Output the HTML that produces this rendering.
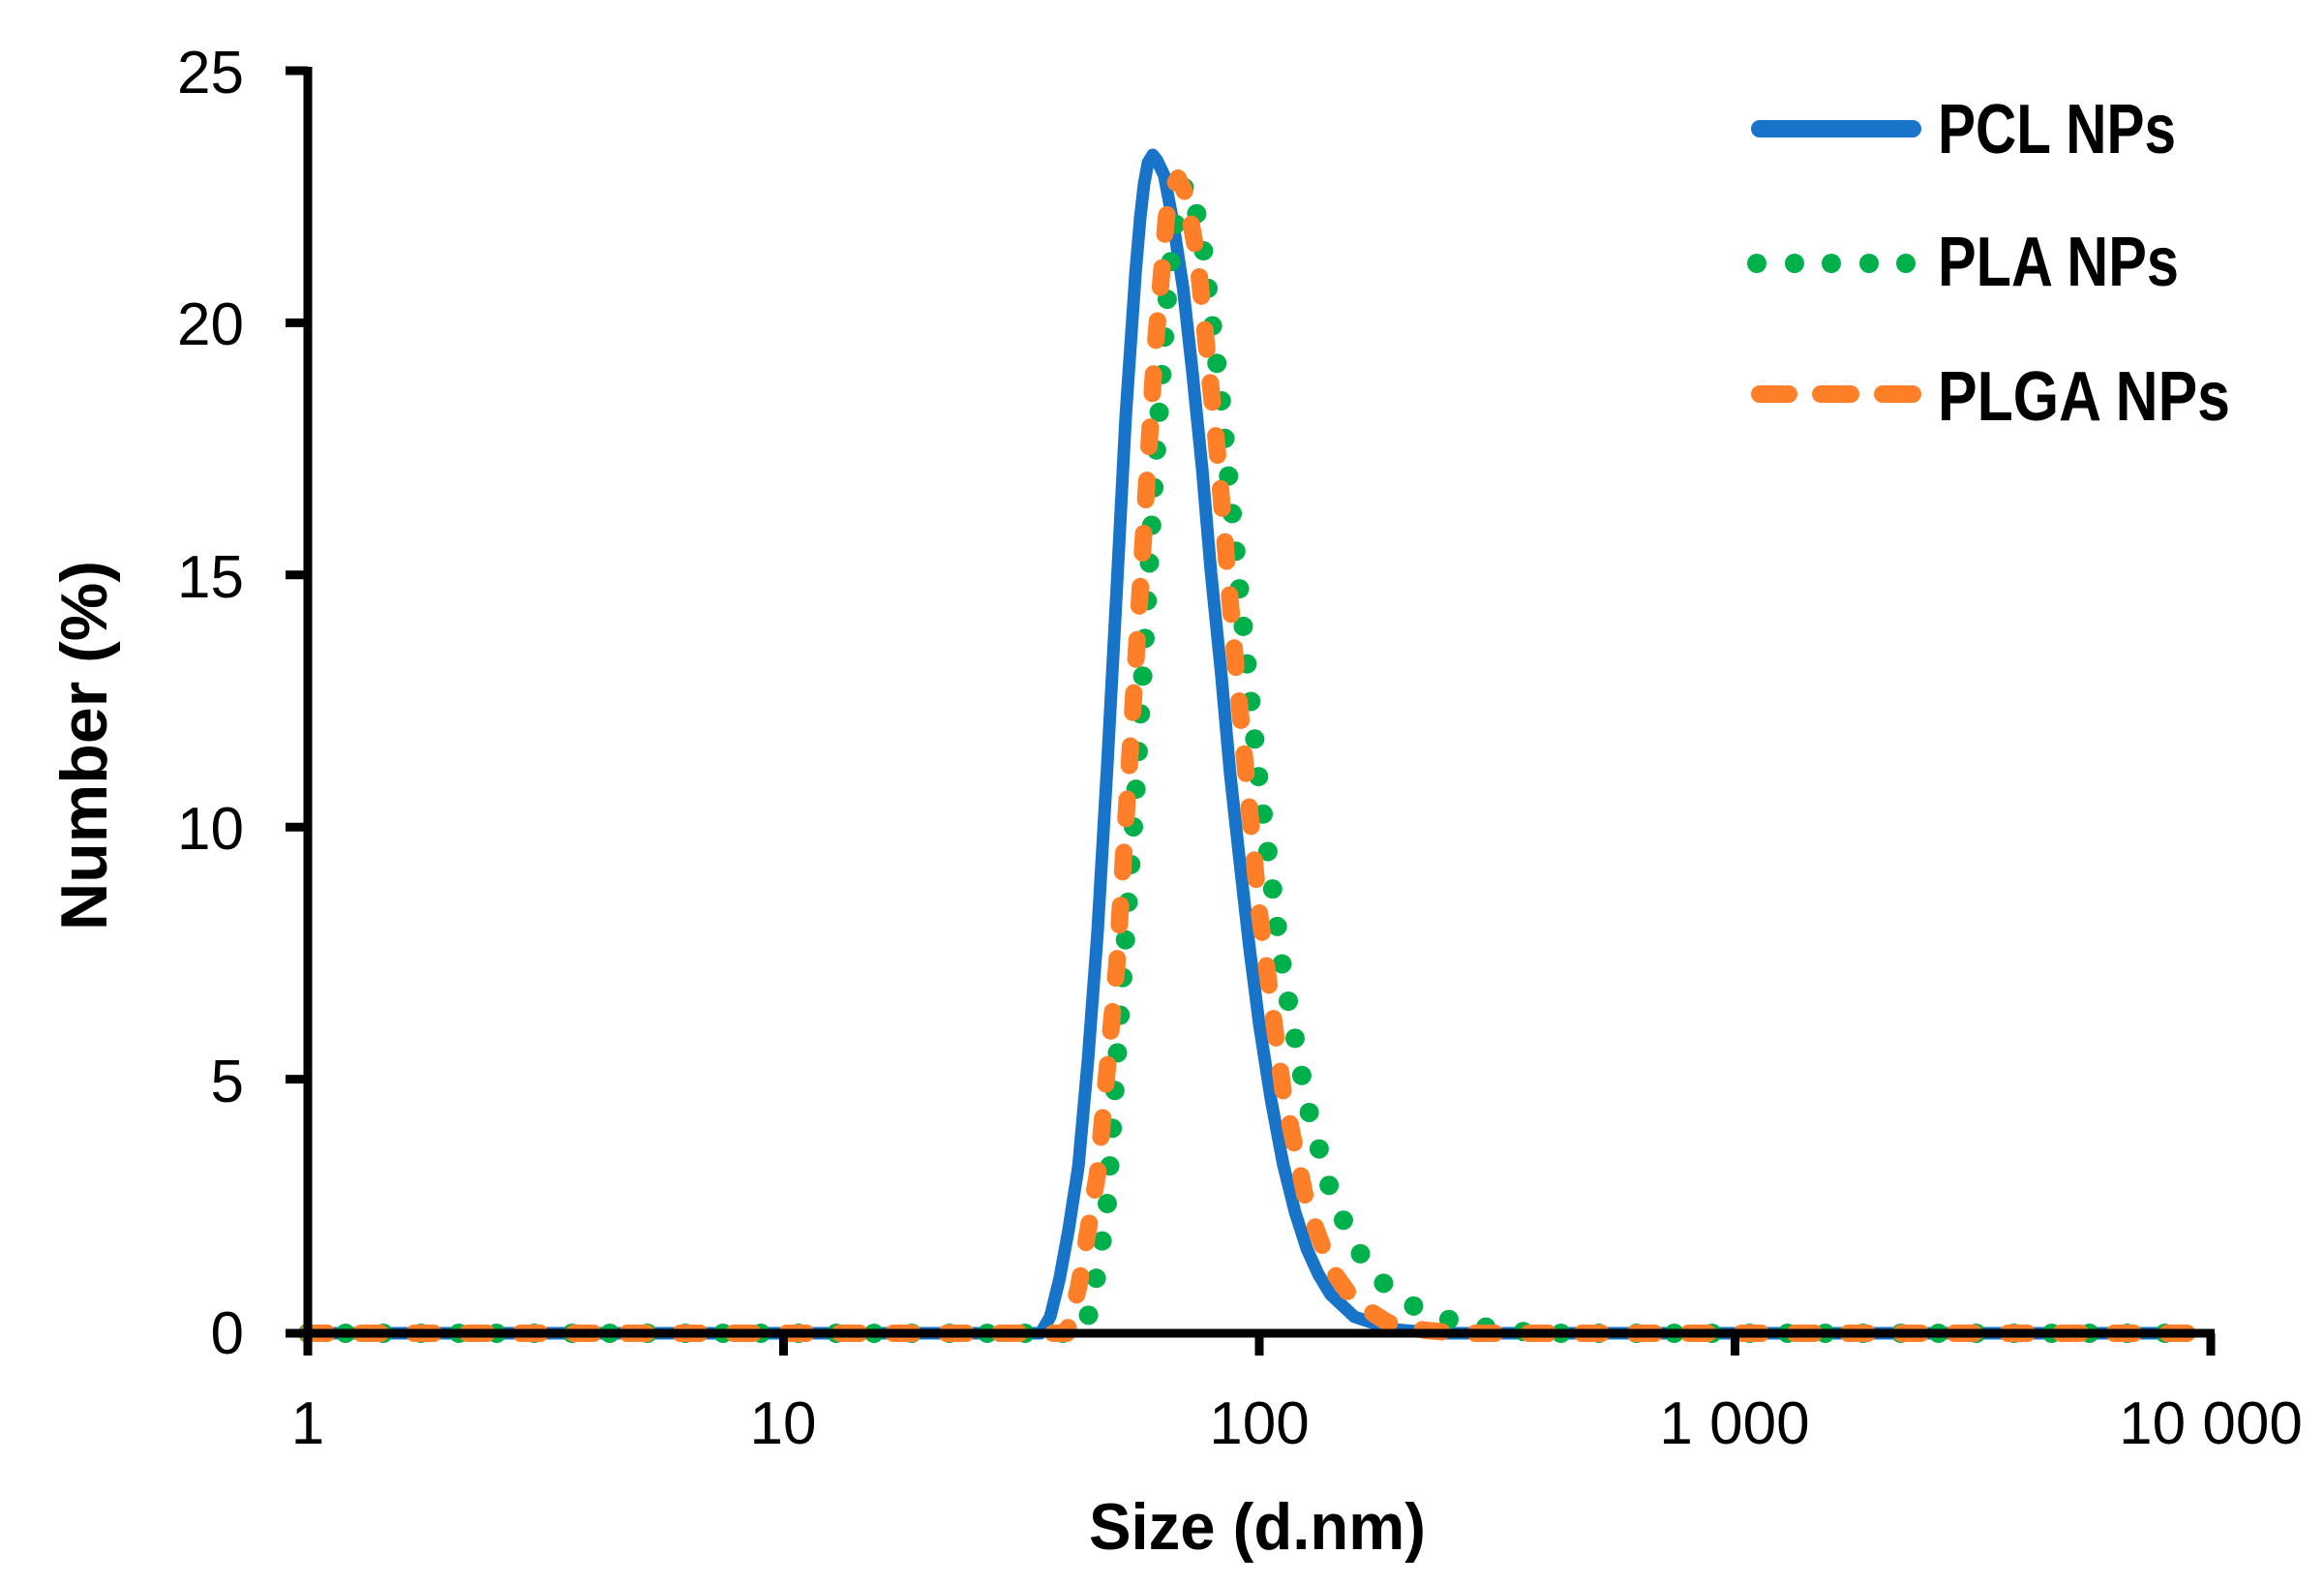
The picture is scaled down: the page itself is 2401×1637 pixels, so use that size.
<!DOCTYPE html>
<html><head><meta charset="utf-8"><style>html,body{margin:0;padding:0;background:#fff;}svg{display:block;}</style></head>
<body>
<svg width="2401" height="1637" viewBox="0 0 2401 1637" xmlns="http://www.w3.org/2000/svg">
<rect width="2401" height="1637" fill="#fff"/>
<g fill="none" stroke-linecap="round" stroke-linejoin="round">
<polyline stroke="#1874C8" stroke-width="13" points="318,1377 1075,1377 1085,1360 1094.6,1321 1104,1270 1114.2,1204 1124,1095 1133.9,963 1144,790 1153.6,611 1163,430 1173.2,281 1178,225 1182,190 1186,168 1190.9,160 1195,165 1202.7,181 1212,230 1222.4,298 1232,385 1242,484 1251,590 1261.7,696 1271,800 1281.3,894 1291,980 1301,1058 1313,1135 1325.6,1202 1338,1252 1350.2,1290 1362,1316 1374.7,1337 1399.3,1360 1438.6,1373 1487.8,1377 2262,1377"/>
<polyline stroke="#00B04A" stroke-width="20" stroke-dasharray="0 39" points="318,1377 1116.7,1377 1124,1361 1133.9,1314 1143.7,1247 1153.6,1100 1173.2,823 1192.9,491 1207.6,286 1216,220 1224.8,189 1233,205 1242,247 1261.7,413 1281.3,616 1301,809 1325.6,1004 1350.2,1140 1374.7,1230 1399.3,1286 1423.9,1321 1458.3,1348 1497.6,1363 1546.8,1373 1596,1377 2262,1377"/>
<polyline stroke="#FE7F27" stroke-width="18" stroke-dasharray="20 35" points="318,1377 1102,1377 1114.2,1330 1133.9,1212 1153.6,1000 1173.2,687 1192.9,366 1205,225 1211,195 1217,184 1225,200 1237.1,267 1256.8,457 1276.4,685 1301,942 1325.6,1127 1350.2,1244 1374.7,1310 1399.3,1344 1433.7,1366 1473,1374 1507.4,1377 2262,1377"/>
</g>
<g stroke="#000" stroke-width="9" fill="none">
<line x1="318" y1="69" x2="318" y2="1400"/>
<line x1="313" y1="1377" x2="2288" y2="1377"/>
<line x1="295" y1="73" x2="318" y2="73"/>
<line x1="295" y1="333.4" x2="318" y2="333.4"/>
<line x1="295" y1="593.8" x2="318" y2="593.8"/>
<line x1="295" y1="854.2" x2="318" y2="854.2"/>
<line x1="295" y1="1114.6" x2="318" y2="1114.6"/>
<line x1="295" y1="1377" x2="318" y2="1377"/>
<line x1="809.5" y1="1377" x2="809.5" y2="1400"/>
<line x1="1301" y1="1377" x2="1301" y2="1400"/>
<line x1="1792.5" y1="1377" x2="1792.5" y2="1400"/>
<line x1="2284" y1="1377" x2="2284" y2="1400"/>
</g>
<g font-family="Liberation Sans, sans-serif" font-size="62" fill="#000" text-anchor="end">
<text x="252" y="96">25</text>
<text x="252" y="356">20</text>
<text x="252" y="617">15</text>
<text x="252" y="877">10</text>
<text x="252" y="1138">5</text>
<text x="252" y="1398">0</text>
</g>
<g font-family="Liberation Sans, sans-serif" font-size="62" fill="#000" text-anchor="middle">
<text x="318" y="1491">1</text>
<text x="809" y="1491">10</text>
<text x="1301" y="1491">100</text>
<text x="1792" y="1491">1 000</text>
<text x="2284" y="1491">10 000</text>
</g>
<text x="1125" y="1600" font-family="Liberation Sans, sans-serif" font-weight="bold" font-size="68" textLength="348" lengthAdjust="spacingAndGlyphs">Size (d.nm)</text>
<text transform="translate(110,961) rotate(-90)" font-family="Liberation Sans, sans-serif" font-weight="bold" font-size="68" textLength="382" lengthAdjust="spacingAndGlyphs">Number (%)</text>
<line x1="1818" y1="133" x2="1976" y2="133" stroke="#1874C8" stroke-width="18" stroke-linecap="round"/>
<g fill="#00B04A"><circle cx="1815" cy="272" r="10"/><circle cx="1854" cy="272" r="10"/><circle cx="1892" cy="272" r="10"/><circle cx="1931" cy="272" r="10"/><circle cx="1969" cy="272" r="10"/></g>
<g stroke="#FE7F27" stroke-width="18" stroke-linecap="round"><line x1="1818" y1="407" x2="1848" y2="407"/><line x1="1881" y1="407" x2="1912" y2="407"/><line x1="1945" y1="407" x2="1976" y2="407"/></g>
<g font-family="Liberation Sans, sans-serif" font-weight="bold" font-size="72" fill="#000">
<text x="2002" y="158" textLength="246" lengthAdjust="spacingAndGlyphs">PCL NPs</text>
<text x="2002" y="295" textLength="249" lengthAdjust="spacingAndGlyphs">PLA NPs</text>
<text x="2002" y="434" textLength="302" lengthAdjust="spacingAndGlyphs">PLGA NPs</text>
</g>
</svg>
</body></html>
